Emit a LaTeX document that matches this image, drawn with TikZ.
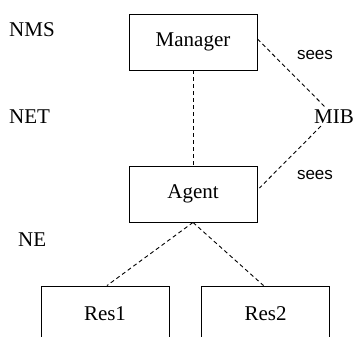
\documentclass[tikz,border=0pt]{standalone}
\usepackage{fontspec}
\setmainfont{Liberation Serif}
\setsansfont{Liberation Sans}
\begin{document}
\begin{tikzpicture}[x=1pt,y=1pt,
  box/.style={draw,line width=0.9pt,minimum width=128pt,minimum height=56pt,inner sep=0pt,font=\fontsize{21}{24}\selectfont},
  lbl/.style={inner sep=0pt,font=\fontsize{21}{24}\selectfont},
  seelbl/.style={inner sep=0pt,font=\sffamily\fontsize{17}{20}\selectfont},
  dline/.style={line width=0.9pt,dash pattern=on 4pt off 3pt}]
\clip (0,0) rectangle (354,337);
\fill[white] (0,0) rectangle (354,337);
\node[box] (manager) at (193,295) {Manager};
\node[box] (agent) at (193,143) {Agent};
\node[box] (res1) at (105,23) {Res1};
\node[box] (res2) at (265.5,23) {Res2};
\node[lbl,anchor=west] (nms) at (9,307) {NMS};
\node[lbl,anchor=west] (net) at (9,220) {NET};
\node[lbl,anchor=west] (ne) at (18,97) {NE};
\node[lbl,anchor=east] (mib) at (354,220) {MIB};
\node[seelbl] (sees1) at (315,282) {sees};
\node[seelbl] (sees2) at (315,162) {sees};
\draw[dline] (manager.south) -- (agent.north);
\draw[dline] ([yshift=3pt]manager.east) -- ([xshift=-8pt,yshift=2pt]mib.north);
\draw[dline] ([xshift=-13pt,yshift=-2pt]mib.south) -- ([yshift=6pt,xshift=2pt]agent.east);
\draw[dline] (agent.south) -- ([xshift=2pt]res1.north);
\draw[dline] (agent.south) -- ([xshift=-2pt]res2.north);
\end{tikzpicture}
\end{document}
